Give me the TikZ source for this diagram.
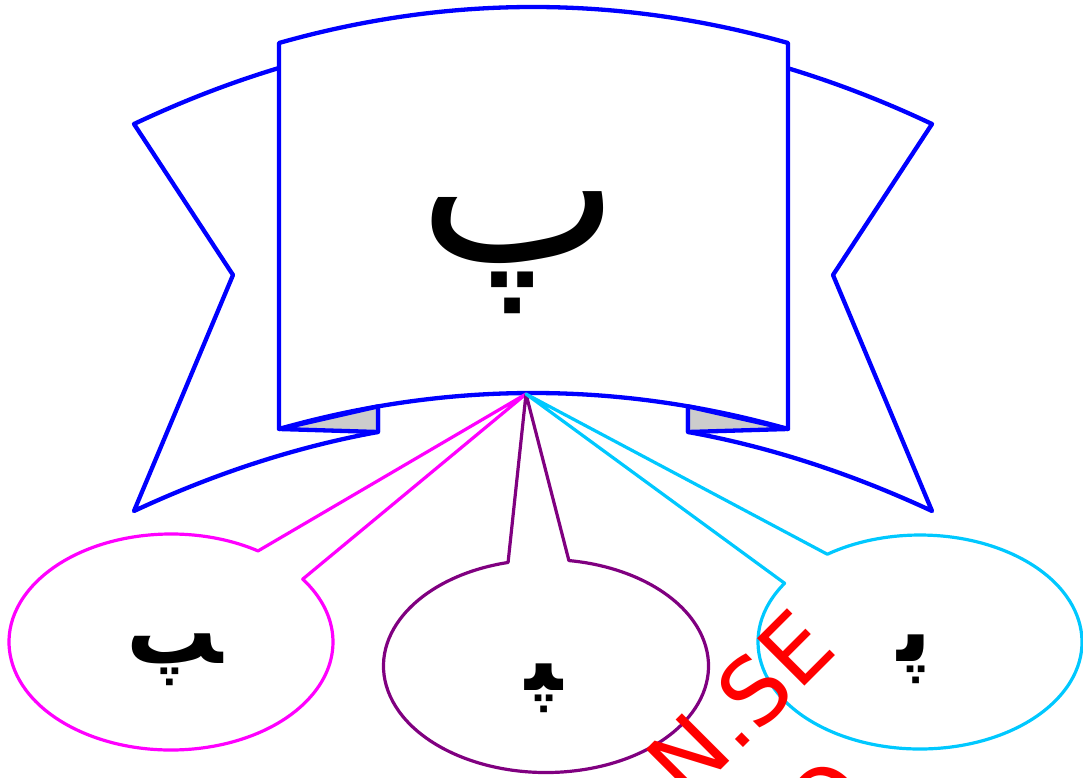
\documentclass[tikz,border=0pt]{standalone}
\usepackage{fontspec}
\newfontfamily\arabicfont[Script=Arabic]{DejaVu Sans}
\newfontfamily\arabicbold[Script=Arabic]{DejaVu Sans Bold}
\newfontfamily\wmfont{DejaVu Sans}
\TeXXeTstate=1
\usetikzlibrary{calc}
\definecolor{ribbonblue}{RGB}{0,0,255}
\definecolor{foldgray}{RGB}{204,204,204}
\definecolor{cmag}{RGB}{255,0,255}
\definecolor{cpur}{RGB}{128,0,128}
\definecolor{ccyan}{RGB}{0,200,255}
\definecolor{wmred}{RGB}{255,0,0}
\tikzset{
  ribbon/.style={draw=ribbonblue, line width=4.3pt, fill=white, line join=round},
  fold/.style={draw=ribbonblue, line width=4.3pt, fill=foldgray, line join=round},
  callout/.style={line width=3.2pt, fill=white, line join=round},
  bigletter/.style={inner sep=0pt, font=\arabicfont\fontsize{214}{214}\selectfont},
  smallletter/.style={inner sep=0pt, font=\arabicbold\fontsize{91}{91}\selectfont},
  watermark/.style={inner sep=0pt, text=wmred, rotate=45, font=\wmfont\fontsize{92}{92}\selectfont}
}
\begin{document}
\begin{tikzpicture}[x=1pt,y=-1pt]
\useasboundingbox (0,0) rectangle (1083,778);
\clip (0,0) rectangle (1083,778);
% back ribbon (wings)
\draw[ribbon] (134,124) .. controls (400,-1.6) and (666,-1.6) .. (932,124)
  -- (833,275) -- (932,511)
  .. controls (850.5,473.1) and (769.2,446.7) .. (688,432)
  -- (688,300) -- (378,300) -- (378,432)
  .. controls (296.8,446.7) and (215.5,473.1) .. (134,511)
  -- (233,275) -- cycle;
% front panel
\draw[ribbon] (279,43) .. controls (448.3,-5) and (617.7,-5) .. (788,43)
  -- (788,429) .. controls (617.7,381) and (448.3,381) .. (279,429) -- cycle;
% folds
\draw[fold] (279,429) -- (378,406.4) -- (378,432) -- cycle;
\draw[fold] (788,429) -- (688,406.4) -- (688,432) -- cycle;
\coordinate (tip) at (526,394);
% callout centres
\coordinate (cl) at (171,642);
\coordinate (cm) at (546,666);
\coordinate (cr) at (920,642);
% left callout
\draw[callout, draw=cmag] ($(cl)+(-35.6:162 and 108)$) -- (tip)
  -- ($(cl)+(-57.5:162 and 108)$)
  arc[start angle=-57.5, end angle=-395.6, x radius=162, y radius=108] -- cycle;
% middle callout
\draw[callout, draw=cpur] ($(cm)+(-81.9:162.5 and 106.5)$) -- (tip)
  -- ($(cm)+(-103.5:162.5 and 106.5)$)
  arc[start angle=-103.5, end angle=-441.9, x radius=162.5, y radius=106.5] -- cycle;
% right callout
\draw[callout, draw=ccyan] ($(cr)+(-124.9:162 and 107)$) -- (tip)
  -- ($(cr)+(-146.7:162 and 107)$)
  arc[start angle=-146.7, end angle=-484.9, x radius=162, y radius=107] -- cycle;
% letters
\node[bigletter] (iso) at (519,252.5) {\beginR پ\endR};
\node[smallletter] (fin) at (174.5,660) {\beginR ^^^^200dپ\endR};
\node[smallletter] (med) at (544,688) {\beginR ^^^^200dپ^^^^200d\endR};
\node[smallletter] (ini) at (914.5,659.5) {\beginR پ^^^^200d\endR};
% watermark
\node[watermark] (wm) at (740,704) {N.SE};
\node[watermark] (wm2) at (826,801) {O};
\end{tikzpicture}
\end{document}
